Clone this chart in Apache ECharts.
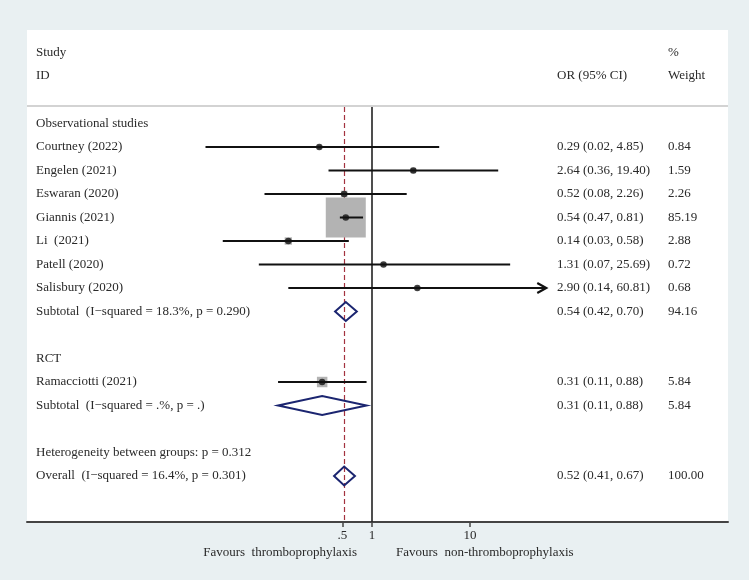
<!DOCTYPE html>
<html><head><meta charset="utf-8">
<script src="https://cdn.jsdelivr.net/npm/echarts@6/dist/echarts.min.js"></script>
<style>html,body{margin:0;padding:0;background:#e9f0f2}#c{width:749px;height:580px}</style>
</head><body><div id="c"></div>
<script>
// ---------- data ----------
const obsStudies = ['Courtney (2022)','Engelen (2021)','Eswaran (2020)','Giannis (2021)','Li  (2021)','Patell (2020)','Salisbury (2020)'];
const obsOR     = [0.29, 2.64, 0.52, 0.54, 0.14, 1.31, 2.90];
const obsLow    = [0.02, 0.36, 0.08, 0.47, 0.03, 0.07, 0.14];
const obsHigh   = [4.85, 19.40, 2.26, 0.81, 0.58, 25.69, 60.81];
const obsWeight = [0.84, 1.59, 2.26, 85.19, 2.88, 0.72, 0.68];

const rctStudies = ['Ramacciotti (2021)'];
const rctOR     = [0.31];
const rctLow    = [0.11];
const rctHigh   = [0.88];
const rctWeight = [5.84];

const groupTitles = ['Observational studies','RCT'];
const subtotalLabels = ['Subtotal  (I\u2212squared = 18.3%, p = 0.290)','Subtotal  (I\u2212squared = .%, p = .)'];
const subtotalOR     = [0.54, 0.31];
const subtotalLow    = [0.42, 0.11];
const subtotalHigh   = [0.70, 0.88];
const subtotalWeight = [94.16, 5.84];

const heterogeneityLabel = 'Heterogeneity between groups: p = 0.312';
const overallLabel  = 'Overall  (I\u2212squared = 16.4%, p = 0.301)';
const overallOR     = 0.52;
const overallLow    = 0.41;
const overallHigh   = 0.67;
const overallWeight = 100.00;

const tickValues = [0.5, 1, 10];
const tickLabels = ['.5', '1', '10'];
const nullValue = 1;
const arrowClip = 60;          // CI beyond this drawn with arrow
const xMin = 0.0003017, xMax = 4292;

// ---------- build rows ----------
const L = Math.log10;
const rows = [];
function add(r){ r.row = rows.length; rows.push(r); }
const groups = [
  {names: obsStudies, or: obsOR, lo: obsLow, hi: obsHigh, w: obsWeight},
  {names: rctStudies, or: rctOR, lo: rctLow, hi: rctHigh, w: rctWeight}
];
groups.forEach((g, gi) => {
  add({kind:'head', label: groupTitles[gi]});
  g.names.forEach((n, i) => add({kind:'study', label:n, or:g.or[i], lo:g.lo[i], hi:g.hi[i], w:g.w[i]}));
  add({kind:'pooled', label: subtotalLabels[gi], or: subtotalOR[gi], lo: subtotalLow[gi], hi: subtotalHigh[gi], w: subtotalWeight[gi]});
  add({kind:'blank'});
});
add({kind:'head', label: heterogeneityLabel});
add({kind:'pooled', label: overallLabel, or: overallOR, lo: overallLow, hi: overallHigh, w: overallWeight});

const studyRows = rows.filter(r => r.kind === 'study');
const pooledRows = rows.filter(r => r.kind === 'pooled');
const maxW = Math.max(...studyRows.map(r => r.w));

const FONT = '"Liberation Serif","Times New Roman",serif';
const TXT = '#2a2a2a';
const FS = '13px ';
const f2 = v => v.toFixed(2);

const chart = echarts.init(document.getElementById('c'));
chart.setOption({
  backgroundColor: '#e9f0f2',
  animation: false,
  grid: {left: 27, right: 21, top: 107, bottom: 58, containLabel: false},
  xAxis: {
    type: 'value', min: L(xMin), max: L(xMax),
    splitLine: {show: false},
    axisLine: {show: true, onZero: false, lineStyle: {color: '#444', width: 2}},
    axisTick: {show: true, customValues: tickValues.map(L), length: 5, lineStyle: {color: '#444', width: 1.5}},
    axisLabel: {
      customValues: tickValues.map(L), margin: 7,
      fontFamily: FONT, fontSize: 13, color: TXT,
      formatter: v => { let k = 0, d = 1e9; tickValues.forEach((t, i) => { const dd = Math.abs(L(t) - v); if (dd < d) { d = dd; k = i; } }); return tickLabels[k]; }
    }
  },
  yAxis: {type: 'value', inverse: true, min: -0.702, max: 16.957, show: false},
  graphic: [
    {type: 'rect', z: -10, shape: {x: 27, y: 30, width: 701, height: 492}, style: {fill: '#ffffff'}},
    {type: 'line', z: -5, shape: {x1: 27, y1: 106, x2: 728, y2: 106}, style: {stroke: '#c4c4c4', lineWidth: 1.5}},
    {type: 'text', x: 36, y: 53, style: {text: 'Study', font: FS + FONT, fill: TXT, verticalAlign: 'middle'}},
    {type: 'text', x: 36, y: 76, style: {text: 'ID', font: FS + FONT, fill: TXT, verticalAlign: 'middle'}},
    {type: 'text', x: 557, y: 76, style: {text: 'OR (95% CI)', font: FS + FONT, fill: TXT, verticalAlign: 'middle'}},
    {type: 'text', x: 668, y: 53, style: {text: '%', font: FS + FONT, fill: TXT, verticalAlign: 'middle'}},
    {type: 'text', x: 668, y: 76, style: {text: 'Weight', font: FS + FONT, fill: TXT, verticalAlign: 'middle'}},
    {type: 'text', x: 357, y: 553, style: {text: 'Favours  thromboprophylaxis', font: FS + FONT, fill: TXT, align: 'right', verticalAlign: 'middle'}},
    {type: 'text', x: 396, y: 553, style: {text: 'Favours  non-thromboprophylaxis', font: FS + FONT, fill: TXT, align: 'left', verticalAlign: 'middle'}}
  ],
  series: [
    { // weight boxes
      type: 'custom', z: 2,
      data: studyRows.map(r => [L(r.or), r.row, r.w]),
      renderItem: (params, api) => {
        const p = api.coord([api.value(0), api.value(1)]);
        const s = 40 * Math.sqrt(api.value(2) / maxW);
        return {type: 'rect', shape: {x: p[0] - s / 2, y: p[1] - s / 2, width: s, height: s}, style: {fill: '#b3b3b3'}};
      }
    },
    { // confidence intervals
      type: 'custom', z: 3,
      data: studyRows.map(r => [L(r.lo), L(r.hi), r.row]),
      renderItem: (params, api) => {
        const hiV = Math.min(api.value(1), L(arrowClip));
        const a = api.coord([api.value(0), api.value(2)]);
        const b = api.coord([hiV, api.value(2)]);
        const children = [{type: 'line', shape: {x1: a[0], y1: a[1], x2: b[0], y2: b[1]}, style: {stroke: '#111', lineWidth: 2}}];
        if (api.value(1) > L(arrowClip)) {
          children.push({type: 'polyline', shape: {points: [[b[0] - 9, b[1] - 5], [b[0], b[1]], [b[0] - 9, b[1] + 5]]}, style: {stroke: '#111', lineWidth: 2.2, fill: null}});
        }
        return {type: 'group', children};
      }
    },
    { // point estimates + reference lines
      type: 'scatter', z: 4, symbol: 'circle', symbolSize: 6.5,
      itemStyle: {color: '#111'},
      data: studyRows.map(r => [L(r.or), r.row]),
      markLine: {
        silent: true, symbol: 'none', label: {show: false}, z: 1,
        data: [
          {xAxis: L(nullValue), lineStyle: {color: '#222', width: 1.6, type: 'solid'}},
          {xAxis: L(overallOR), lineStyle: {color: '#a3323f', width: 1.2, type: [5, 3]}}
        ]
      }
    },
    { // pooled diamonds
      type: 'custom', z: 5,
      data: pooledRows.map(r => [L(r.lo), L(r.hi), r.row, L(r.or)]),
      renderItem: (params, api) => {
        const y = api.value(2);
        const a = api.coord([api.value(0), y]);
        const b = api.coord([api.value(1), y]);
        const c = api.coord([api.value(3), y]);
        const h = 9.5;
        return {type: 'polygon', shape: {points: [[a[0], a[1]], [c[0], c[1] - h], [b[0], b[1]], [c[0], c[1] + h]]}, style: {stroke: '#1b2570', lineWidth: 2, fill: 'rgba(255,255,255,0)'}};
      }
    },
    { // text columns
      type: 'custom', z: 6,
      data: rows.filter(r => r.kind !== 'blank').map(r => [0, r.row]),
      renderItem: (params, api) => {
        const r = rows[api.value(1)];
        const y = api.coord([0, api.value(1)])[1];
        const font = FS + FONT;
        const ch = [{type: 'text', x: 36, y, style: {text: r.label, font, fill: TXT, verticalAlign: 'middle'}}];
        if (r.kind !== 'head') {
          ch.push({type: 'text', x: 557, y, style: {text: `${f2(r.or)} (${f2(r.lo)}, ${f2(r.hi)})`, font, fill: TXT, verticalAlign: 'middle'}});
          ch.push({type: 'text', x: 668, y, style: {text: f2(r.w), font, fill: TXT, verticalAlign: 'middle'}});
        }
        return {type: 'group', children: ch};
      }
    }
  ]
});
</script></body></html>
